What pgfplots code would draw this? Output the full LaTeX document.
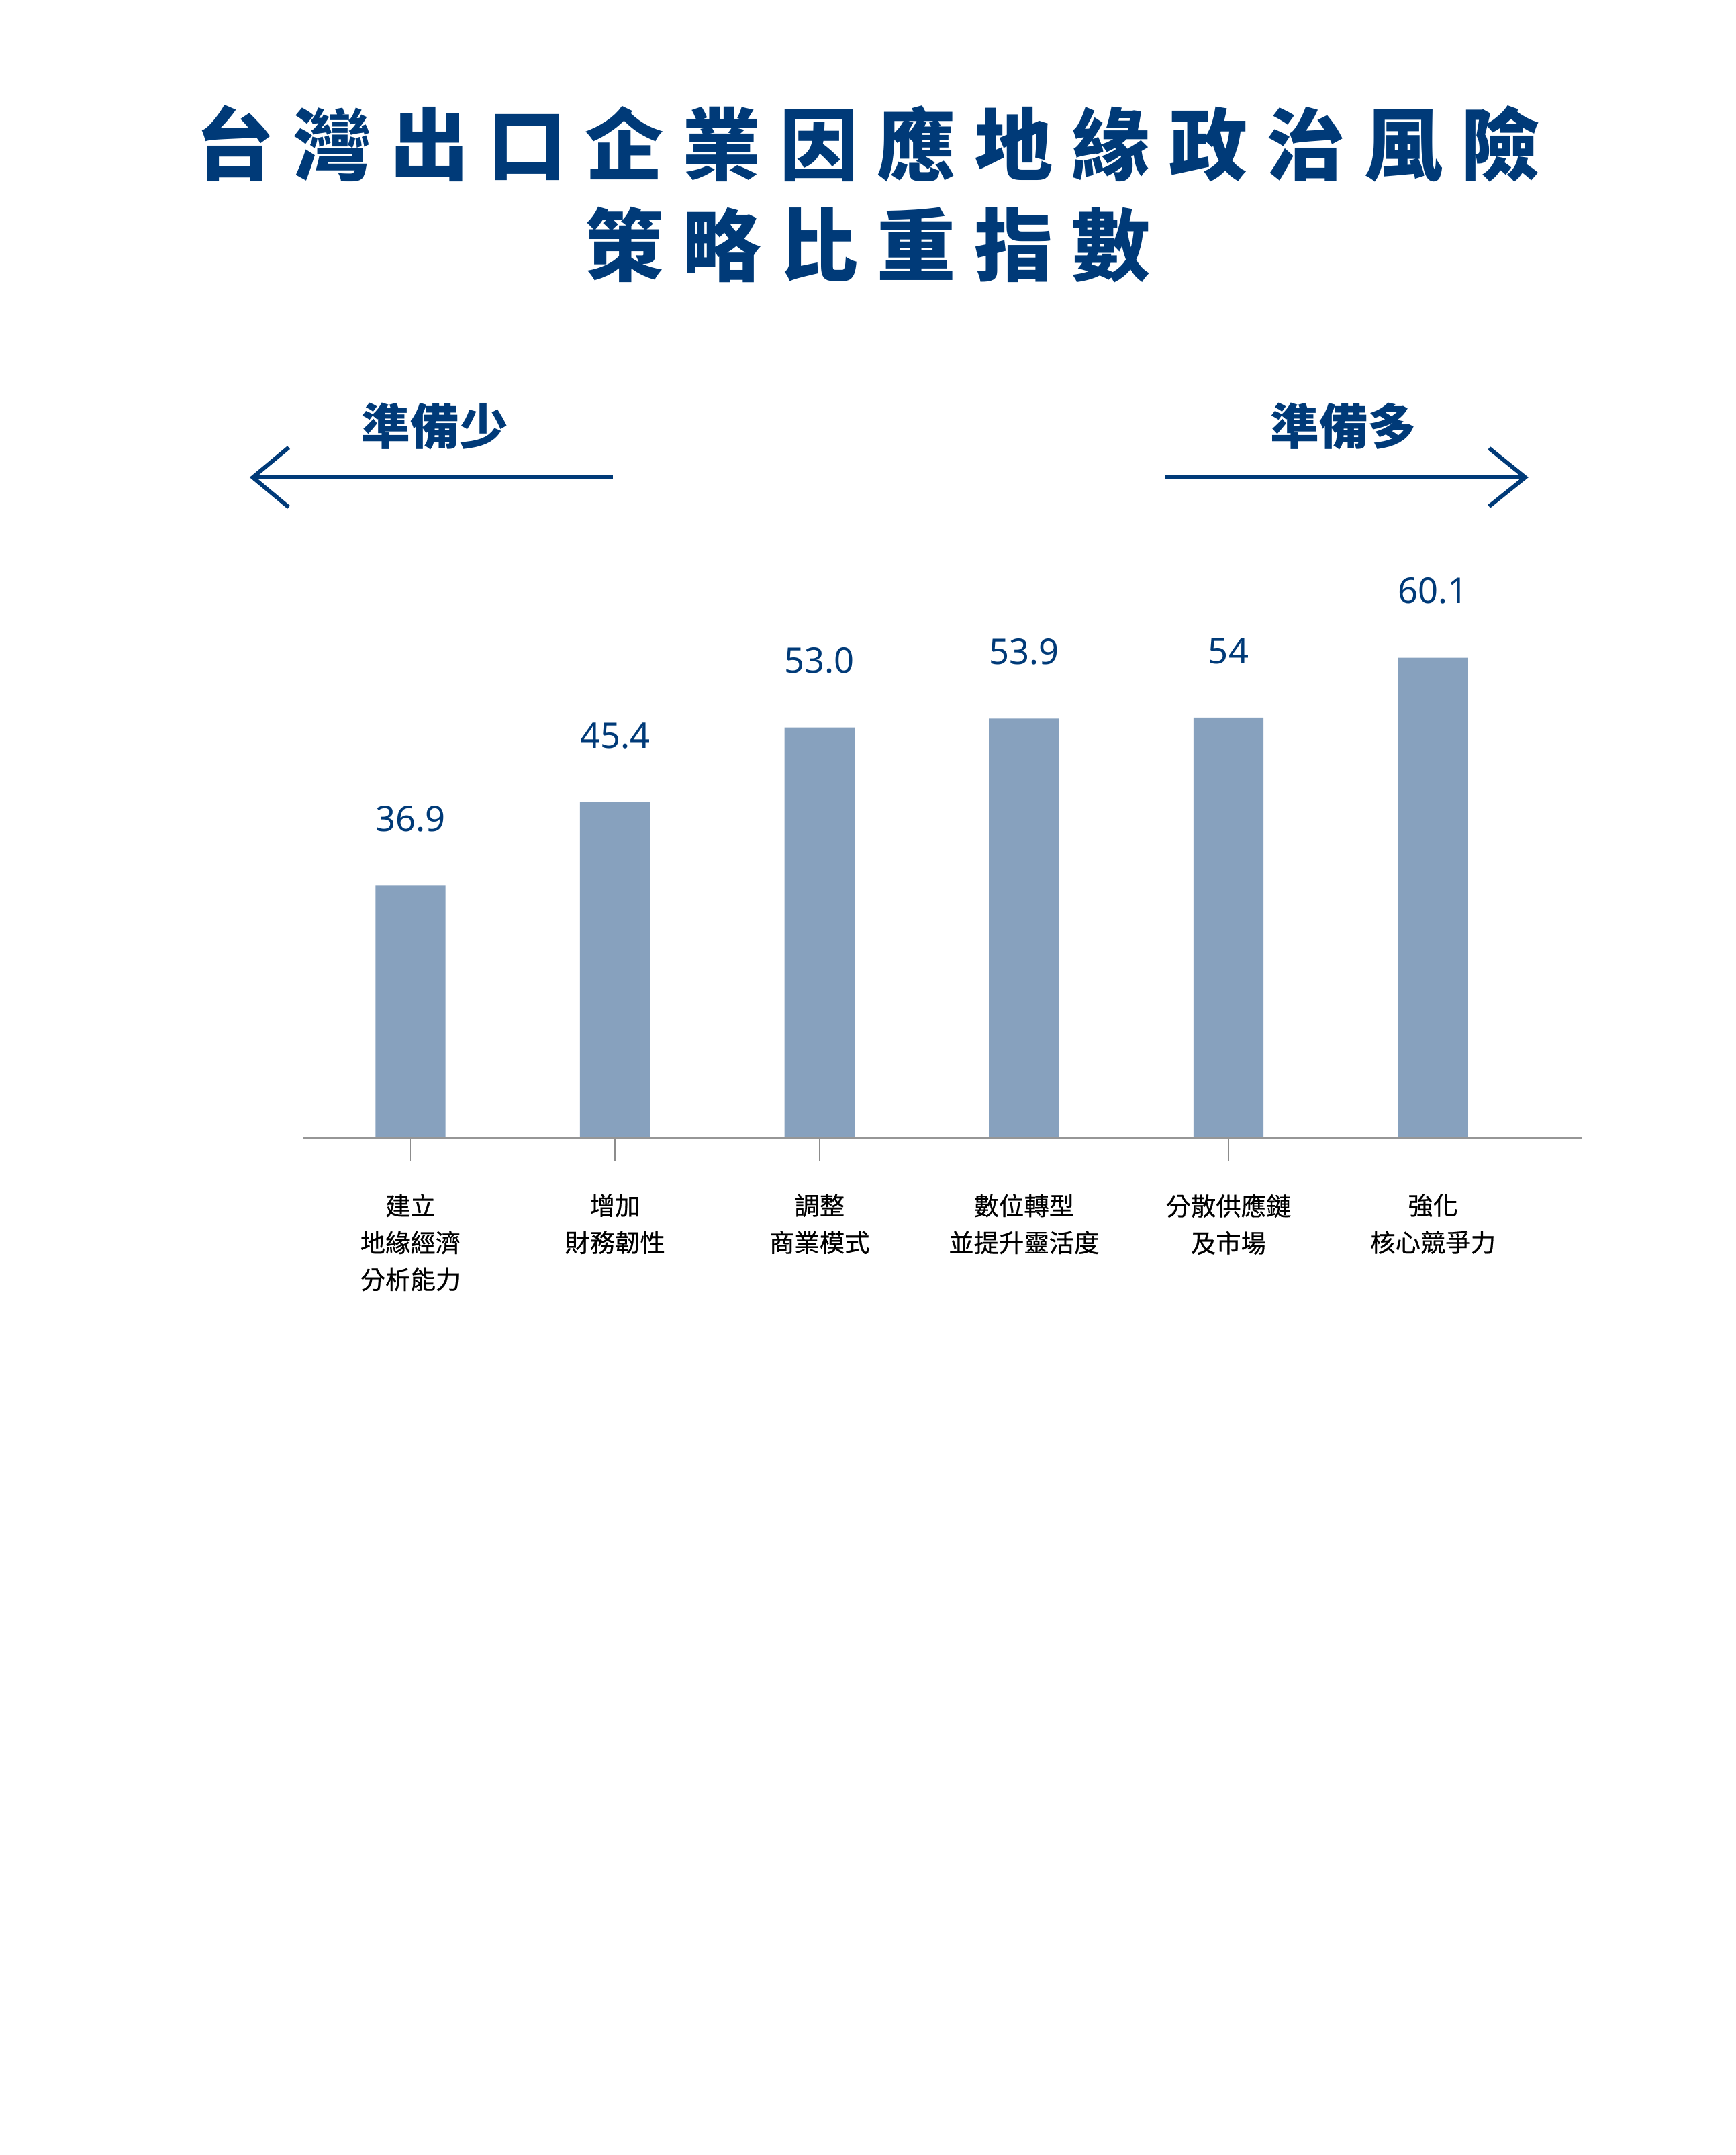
\documentclass[border=0pt]{standalone}
\usepackage{fontspec}
\setmainfont{Noto Sans CJK TC}
\newfontfamily\latin{Noto Sans}
\newfontfamily\cjkm{Noto Sans CJK TC}[FakeBold=0.5]
\usepackage{pgfplots}
\pgfplotsset{compat=1.18}
\definecolor{navy}{RGB}{0,58,120}
\definecolor{barblue}{RGB}{135,161,190}
\definecolor{axgray}{RGB}{150,150,150}
\def\ls{\kern13.8pt}
\begin{document}
\begin{tikzpicture}[x=1pt,y=1pt]
\path[use as bounding box] (0,0) rectangle (1280,1589);
% title
\node[anchor=base, inner sep=0pt, text=navy, font=\fontsize{58}{70}\selectfont\bfseries] at (640,1589-128.5)
  {台\ls{}灣\ls{}出\ls{}口\ls{}企\ls{}業\ls{}因\ls{}應\ls{}地\ls{}緣\ls{}政\ls{}治\ls{}風\ls{}險};
\node[anchor=base, inner sep=0pt, text=navy, font=\fontsize{58}{70}\selectfont\bfseries] at (640,1589-202.8)
  {策\ls{}略\ls{}比\ls{}重\ls{}指\ls{}數};
% direction labels and arrows
\node[anchor=base, inner sep=0pt, text=navy, font=\fontsize{36}{40}\selectfont\bfseries] at (320.8,1589-328) {準備少};
\node[anchor=base, inner sep=0pt, text=navy, font=\fontsize{36}{40}\selectfont\bfseries] at (990.8,1589-328) {準備多};
\draw[navy, line width=3.3pt] (186.4,1589-352) -- (452,1589-352);
\draw[navy, line width=3pt, line join=miter] (212.9,1589-330) -- (186.4,1589-352) -- (212.9,1589-374);
\draw[navy, line width=3.3pt] (859,1589-352) -- (1124.7,1589-352);
\draw[navy, line width=3pt, line join=miter] (1098,1589-330.5) -- (1124.7,1589-352) -- (1098,1589-373.4);
\begin{axis}[
  at={(223.9pt,749.7pt)}, anchor=south west,
  scale only axis, width=942.1pt, height=426.2pt,
  xmin=-0.5225, xmax=5.725, ymin=11.24, ymax=70,
  axis x line=bottom, axis y line=none,
  x axis line style={-, draw=axgray, line width=1.5pt},
  axis on top,
  ytick=\empty,
  xtick={0,1,2,3,4,5},
  xticklabels={{建立\\地緣經濟\\分析能力},{增加\\財務韌性},{調整\\商業模式},{數位轉型\\並提升靈活度},{分散供應鏈\\及市場},{強化\\核心競爭力}},
  tick align=center, major tick length=16.4pt,
  tick style={draw=black!45, line width=0.7pt},
  xticklabel style={anchor=north, inner sep=0pt, yshift=-24.5pt, align=center, text=black,
    font=\cjkm\fontsize{18.5}{27.2}\selectfont},
  ybar, bar width=51.7pt,
  nodes near coords, point meta=explicit symbolic,
  every node near coord/.append style={anchor=base, inner sep=0pt, yshift=40pt, text=navy,
    font=\latin\fontsize{26}{30}\selectfont},
  clip=false,
]
\addplot[fill=barblue, draw=none] coordinates {
  (0,36.9) [36.9]
  (1,45.4) [45.4]
  (2,53.0) [53.0]
  (3,53.9) [53.9]
  (4,54) [54]
  (5,60.1) [60.1]
};
\end{axis}
\end{tikzpicture}
\end{document}
